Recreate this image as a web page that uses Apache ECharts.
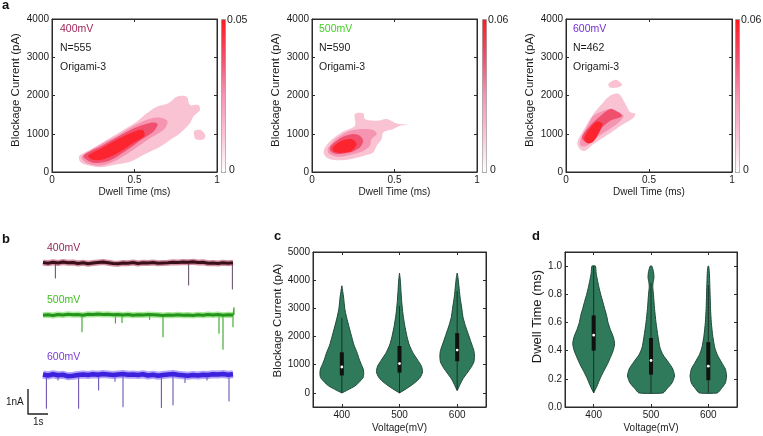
<!DOCTYPE html>
<html><head><meta charset="utf-8">
<script src="https://cdn.jsdelivr.net/npm/echarts@6/dist/echarts.min.js"></script>
<style>html,body{margin:0;padding:0;background:#fff}#c{width:763px;height:436px}</style>
</head><body><div id="c"></div>
<script>
// ---------------- DATA ----------------
const voltages = ['400', '500', '600'];
const voltageLabels = ['400mV', '500mV', '600mV'];
const eventCounts = ['N=555', 'N=590', 'N=462'];
const sampleName = 'Origami-3';
const densityMax = [0.05, 0.06, 0.06];
const densityMaxLabels = ['0.05', '0.06', '0.06'];

// panel a: density contours [dwell time (ms), blockage current (pA)]
const a400Outer = [[0.17,269],[0.165,420],[0.23,575],[0.331,836],[0.432,1098],[0.513,1315],[0.574,1534],[0.635,1707],[0.705,1796],[0.756,1968],[0.816,1968],[0.836,1751],[0.887,1751],[0.897,1621],[0.856,1445],[0.836,1273],[0.776,1011],[0.715,836],[0.655,661],[0.574,489],[0.473,269],[0.372,183],[0.291,123],[0.21,183]];
const a400Island = [[0.86,1060],[0.875,1100],[0.905,1090],[0.93,950],[0.915,850],[0.87,860]];
const a400Mid = [[0.18,400],[0.3,730],[0.4,960],[0.5,1220],[0.6,1400],[0.66,1420],[0.7,1330],[0.68,1120],[0.6,900],[0.5,600],[0.4,330],[0.3,170],[0.21,230]];
const a400High = [[0.19,420],[0.3,680],[0.4,920],[0.5,1150],[0.6,1290],[0.64,1260],[0.62,1080],[0.55,870],[0.45,560],[0.35,300],[0.25,240]];
const a400Core = [[0.22,430],[0.3,620],[0.4,860],[0.5,1060],[0.55,1100],[0.56,940],[0.5,780],[0.4,500],[0.3,320],[0.24,330]];
const a400Levels = [0.0125, 0.0125, 0.025, 0.0375, 0.0475];

const a500Outer = [[0.07,500],[0.08,650],[0.12,850],[0.189,1060],[0.26,1210],[0.26,1518],[0.31,1533],[0.321,1386],[0.392,1341],[0.453,1386],[0.513,1270],[0.584,1236],[0.533,1210],[0.493,1123],[0.432,1034],[0.422,860],[0.392,684],[0.371,508],[0.31,421],[0.229,334],[0.148,308],[0.095,360]];
const a500Mid = [[0.095,600],[0.15,880],[0.229,1078],[0.31,1123],[0.371,1097],[0.392,992],[0.361,860],[0.351,684],[0.31,552],[0.229,447],[0.158,400],[0.105,470]];
const a500High = [[0.11,660],[0.179,902],[0.249,992],[0.29,947],[0.31,815],[0.29,639],[0.229,508],[0.148,470],[0.113,540]];
const a500Core = [[0.125,639],[0.179,815],[0.24,860],[0.27,729],[0.24,552],[0.168,500],[0.13,540]];
const a500Levels = [0.015, 0.03, 0.045, 0.057];

const a600Outer = [[0.075,860],[0.115,1165],[0.165,1518],[0.216,1781],[0.267,1999],[0.317,2044],[0.358,1781],[0.388,1560],[0.418,1518],[0.398,1386],[0.347,1255],[0.287,1078],[0.226,902],[0.165,729],[0.115,552],[0.085,597],[0.068,729]];
const a600Island = [[0.256,2307],[0.297,2412],[0.327,2349],[0.338,2262],[0.297,2201],[0.262,2217]];
const a600Mid = [[0.085,815],[0.135,1255],[0.165,1473],[0.226,1604],[0.267,1649],[0.307,1560],[0.347,1473],[0.317,1297],[0.247,1078],[0.186,902],[0.125,684],[0.089,684]];
const a600High = [[0.095,902],[0.145,1210],[0.186,1386],[0.247,1604],[0.277,1649],[0.338,1473],[0.267,1341],[0.216,1165],[0.165,947],[0.125,771]];
const a600Core = [[0.11,880],[0.145,1150],[0.186,1320],[0.22,1270],[0.2,1034],[0.165,800],[0.13,750]];
const a600Levels = [0.015, 0.015, 0.03, 0.045, 0.057];

// panel b: current traces (s, nA)
const traceTimes = [0,0.25,0.5,0.75,1,1.25,1.5,1.75,2,2.25,2.5,2.75,3,3.25,3.5,3.75,4,4.25,4.5,4.75,5,5.25,5.5,5.75,6,6.25,6.5,6.75,7,7.25,7.5,7.75,8,8.25,8.5,8.75,9,9.25,9.5];
const traceOffsets = [0, -2.08, -4.48];
const noise400 = [0.02,-0.01,0.03,0.00,0.04,0.01,0.02,-0.02,0.01,-0.03,0.00,0.02,0.04,0.01,-0.02,-0.03,0.00,-0.01,0.02,-0.02,0.01,0.00,0.02,-0.01,0.00,0.01,0.03,0.02,0.04,0.03,0.05,0.02,0.03,-0.01,0.00,-0.02,0.01,-0.01,0.01];
const noise500 = [-0.01,0.01,-0.02,0.02,0.00,0.03,0.01,0.02,-0.01,0.03,0.02,0.04,0.02,0.03,0.01,0.02,0.00,0.02,-0.01,0.01,0.00,0.02,0.01,0.00,-0.02,0.00,-0.01,0.01,-0.01,0.00,-0.02,0.01,-0.01,0.02,0.00,0.02,-0.01,0.01,0.00];
const noise600 = [0.02,-0.02,0.03,-0.01,0.01,-0.05,-0.03,0.00,0.02,0.00,0.03,0.01,0.04,0.02,0.00,0.02,0.04,0.01,0.02,0.00,0.03,-0.02,0.01,-0.03,0.00,0.02,0.04,0.01,-0.01,-0.03,0.00,-0.02,0.01,0.00,0.03,0.02,0.04,0.01,0.03];
const spikes400Times = [0.62, 7.28, 9.47];
const spikes400Depths = [0.6, 0.88, 1.04];
const spikes500Times = [1.95, 3.62, 3.95, 5.33, 6.0, 8.8, 9.0, 9.5, 9.55];
const spikes500Depths = [0.67, 0.32, 0.3, 0.17, 0.87, 0.73, 1.37, 0.47, -0.3];
const spikes600Times = [0.17, 0.75, 1.78, 2.78, 3.6, 4.0, 5.92, 6.5, 7.1, 8.2, 9.3];
const spikes600Depths = [1.33, 0.2, 1.33, 0.6, 0.25, 1.27, 1.3, 1.2, 0.3, 0.2, 1.04];
const scaleBarTimes = [-0.75, -0.75, 0.25];
const scaleBarCurrents = [-5.04, -6.04, -6.04];

// panel c: blockage current violins (pA, half width as fraction of category band)
const c400Y = [0,100,250,400,550,700,850,1000,1200,1400,1700,2000,2300,2700,3000,3400,3800];
const c400W = [0,0.10,0.23,0.31,0.37,0.38,0.37,0.34,0.30,0.27,0.21,0.17,0.13,0.08,0.05,0.03,0];
const c500Y = [0,150,350,550,750,950,1150,1400,1700,2000,2400,2800,3200,3600,4000,4250];
const c500W = [0,0.12,0.26,0.36,0.40,0.38,0.32,0.24,0.17,0.13,0.09,0.06,0.04,0.026,0.014,0];
const c600Y = [80,300,500,700,900,1100,1300,1500,1800,2100,2400,2700,3000,3400,3800,4100,4250];
const c600W = [0,0.05,0.10,0.17,0.24,0.29,0.30,0.29,0.24,0.19,0.14,0.10,0.08,0.05,0.03,0.014,0];
const cQ1 = [620, 720, 1125];
const cQ3 = [1440, 1665, 2120];
const cMedian = [920, 1040, 1520];
const cWhiskLo = [0, 0, 100];
const cWhiskHi = [2670, 3080, 3610];
const cTicks = [0, 1000, 2000, 3000, 4000, 5000];

// panel d: dwell time violins (ms)
const d400Y = [0.10,0.15,0.20,0.25,0.30,0.35,0.40,0.45,0.50,0.55,0.60,0.65,0.70,0.75,0.80,0.85,0.90,0.95,1.00];
const d400W = [0,0.06,0.11,0.17,0.235,0.29,0.34,0.365,0.34,0.29,0.25,0.225,0.19,0.157,0.122,0.092,0.066,0.043,0.03];
const d500Y = [0.10,0.13,0.17,0.22,0.27,0.32,0.37,0.42,0.50,0.60,0.70,0.80,0.85,0.88,0.92,0.96,1.00];
const d500W = [0.21,0.28,0.365,0.41,0.38,0.30,0.21,0.157,0.122,0.087,0.061,0.043,0.031,0.035,0.052,0.043,0.014];
const d600Y = [0.10,0.13,0.17,0.22,0.27,0.32,0.37,0.42,0.50,0.60,0.70,0.80,0.90,0.96,1.00];
const d600W = [0.157,0.226,0.296,0.318,0.296,0.226,0.157,0.113,0.078,0.052,0.038,0.031,0.023,0.017,0.005];
const dQ1 = [0.40, 0.23, 0.19];
const dQ3 = [0.65, 0.49, 0.46];
const dMedian = [0.51, 0.33, 0.29];
const dWhiskLo = [0.10, 0.10, 0.10];
const dWhiskHi = [1.00, 0.88, 0.865];
const dTicks = [0, 0.2, 0.4, 0.6, 0.8, 1.0];

// ---------------- STYLE ----------------
const FONT = '"Liberation Sans", Arial, Helvetica, sans-serif';
const AX = '#2b2b2b';
const TXT = '#1a1a1a';
const densityColors = ['#ffffff', '#fac3d3', '#f595b2', '#f0506e', '#ff1a1f'];
const violinFill = '#2f7a5b';
const violinEdge = '#1d4a39';

function merge(a, b) {
  const out = Array.isArray(a) ? a.slice() : Object.assign({}, a);
  for (const k in b) {
    if (b[k] && typeof b[k] === 'object' && !Array.isArray(b[k]) && a[k] && typeof a[k] === 'object' && !Array.isArray(a[k])) out[k] = merge(a[k], b[k]);
    else out[k] = b[k];
  }
  return out;
}
function axisBase(gridIndex, extra) {
  return merge({
    gridIndex: gridIndex,
    axisLine: { show: true, onZero: false, lineStyle: { color: AX, width: 1 } },
    axisTick: { show: true, inside: true, length: 3, lineStyle: { color: AX } },
    axisLabel: { fontFamily: FONT, fontSize: 10, color: TXT, margin: 3, formatter: v => String(v) },
    splitLine: { show: false },
    nameTextStyle: { fontFamily: FONT, color: TXT }
  }, extra);
}
const hiddenLabel = { axisLabel: { show: false } };

const xAxes = [], yAxes = [];
for (let g = 0; g < 3; g++) {
  xAxes.push(axisBase(g, { type: 'value', position: 'bottom', min: 0, max: 1, interval: 0.5,
    name: 'Dwell Time (ms)', nameLocation: 'middle', nameGap: 15, nameTextStyle: { fontSize: 10 } }));
  xAxes.push(axisBase(g, merge({ type: 'value', position: 'top', min: 0, max: 1, interval: 0.5 }, hiddenLabel)));
  yAxes.push(axisBase(g, { type: 'value', position: 'left', min: 0, max: 4000, interval: 1000,
    name: 'Blockage Current (pA)', nameLocation: 'middle', nameGap: 30, nameRotate: 90,
    nameTextStyle: { fontSize: 11.5, padding: [0, 0, 0, 11] } }));
  yAxes.push(axisBase(g, merge({ type: 'value', position: 'right', min: 0, max: 4000, interval: 1000 }, hiddenLabel)));
}
xAxes.push({ gridIndex: 3, type: 'value', min: -0.8, max: 9.6, show: false });
yAxes.push({ gridIndex: 3, type: 'value', min: -6.08, max: 0.72, show: false });
xAxes.push(axisBase(4, { type: 'category', data: voltages, position: 'bottom', boundaryGap: true,
  axisTick: { alignWithLabel: true }, axisLabel: { formatter: null }, name: 'Voltage(mV)', nameLocation: 'middle', nameGap: 16, nameTextStyle: { fontSize: 10 } }));
xAxes.push(axisBase(4, merge({ type: 'category', data: voltages, position: 'top', boundaryGap: true, axisTick: { alignWithLabel: true } }, hiddenLabel)));
yAxes.push(axisBase(4, { type: 'value', position: 'left', min: -500, max: 5000,
  axisLabel: { customValues: cTicks }, axisTick: { customValues: cTicks },
  name: 'Blockage Current (pA)', nameLocation: 'middle', nameGap: 29, nameRotate: 90,
  nameTextStyle: { fontSize: 11.5, padding: [0, 0, 0, 18] } }));
yAxes.push(axisBase(4, merge({ type: 'value', position: 'right', min: -500, max: 5000,
  axisTick: { customValues: cTicks } }, hiddenLabel)));
xAxes.push(axisBase(5, { type: 'category', data: voltages, position: 'bottom', boundaryGap: true,
  axisTick: { alignWithLabel: true }, axisLabel: { formatter: null }, name: 'Voltage(mV)', nameLocation: 'middle', nameGap: 16, nameTextStyle: { fontSize: 10 } }));
xAxes.push(axisBase(5, merge({ type: 'category', data: voltages, position: 'top', boundaryGap: true, axisTick: { alignWithLabel: true } }, hiddenLabel)));
yAxes.push(axisBase(5, { type: 'value', position: 'left', min: 0, max: 1.1,
  axisLabel: { customValues: dTicks, formatter: v => Number(v).toFixed(1) }, axisTick: { customValues: dTicks },
  name: 'Dwell Time (ms)', nameLocation: 'middle', nameGap: 14, nameRotate: 90,
  nameTextStyle: { fontSize: 13, padding: [0, 0, 0, 26] } }));
yAxes.push(axisBase(5, merge({ type: 'value', position: 'right', min: 0, max: 1.1,
  axisTick: { customValues: dTicks } }, hiddenLabel)));

// ---------------- SERIES ----------------
function contourSeries(xi, yi, polys, levels) {
  return {
    type: 'custom', xAxisIndex: xi, yAxisIndex: yi, silent: true, animation: false,
    data: levels.map(l => [l]),
    renderItem: function (params, api) {
      const pts = polys[params.dataIndex].map(p => api.coord(p));
      return { type: 'polygon', shape: { points: pts, smooth: 0.3 },
        style: { fill: api.visual('color'), stroke: null } };
    }
  };
}
function violinSeries(xi, yi, profY, profW, q1, q3, med, lo, hi) {
  return {
    type: 'custom', xAxisIndex: xi, yAxisIndex: yi, silent: true, animation: false,
    data: med.map((m, i) => [i, m]),
    encode: { x: 0, y: 1 },
    renderItem: function (params, api) {
      const i = params.dataIndex;
      const band = api.size([1, 0])[0];
      const ys = profY[i], ws = profW[i];
      const right = [], left = [];
      for (let k = 0; k < ys.length; k++) {
        const p = api.coord([i, ys[k]]);
        right.push([p[0] + ws[k] * band, p[1]]);
        left.unshift([p[0] - ws[k] * band, p[1]]);
      }
      const c1 = api.coord([i, q1[i]]), c3 = api.coord([i, q3[i]]);
      const cl = api.coord([i, lo[i]]), ch = api.coord([i, hi[i]]);
      const cm = api.coord([i, med[i]]);
      return { type: 'group', children: [
        { type: 'polygon', shape: { points: right.concat(left), smooth: 0.2 },
          style: { fill: violinFill, stroke: violinEdge, lineWidth: 1 } },
        { type: 'line', shape: { x1: cl[0], y1: cl[1], x2: ch[0], y2: ch[1] },
          style: { stroke: '#1b3128', lineWidth: 1 } },
        { type: 'rect', shape: { x: c3[0] - 2, y: c3[1], width: 4, height: c1[1] - c3[1] },
          style: { fill: '#111' } },
        { type: 'circle', shape: { cx: cm[0], cy: cm[1], r: 1.4 }, style: { fill: '#fff' } }
      ] };
    }
  };
}
function traceData(offset, noise) { return traceTimes.map((t, i) => [t, offset + noise[i]]); }
function spikeData(offset, times, depths) {
  const out = [[0, offset]];
  times.forEach((t, i) => { out.push([t, offset], [t, offset - depths[i]], [t, offset]); });
  return out;
}
function lineS(data, color, width, z, opacity) {
  return { type: 'line', xAxisIndex: 6, yAxisIndex: 6, data: data, symbol: 'none', silent: true,
    animation: false, z: z, lineStyle: { color: color, width: width, opacity: opacity == null ? 1 : opacity, join: 'round' } };
}

const series = [
  contourSeries(0, 0, [a400Outer, a400Island, a400Mid, a400High, a400Core], a400Levels),
  contourSeries(2, 2, [a500Outer, a500Mid, a500High, a500Core], a500Levels),
  contourSeries(4, 4, [a600Outer, a600Island, a600Mid, a600High, a600Core], a600Levels),
  lineS(spikeData(traceOffsets[0], spikes400Times, spikes400Depths), '#6c5872', 1.1, 2),
  lineS(traceData(traceOffsets[0], noise400), '#b03555', 6, 3, 0.55),
  lineS(traceData(traceOffsets[0], noise400), '#3b0f1a', 3.2, 4),
  lineS(spikeData(traceOffsets[1], spikes500Times, spikes500Depths), '#35a526', 1.1, 2),
  lineS(traceData(traceOffsets[1], noise500), '#6fdc55', 6, 3, 0.6),
  lineS(traceData(traceOffsets[1], noise500), '#23931b', 3.2, 4),
  lineS(spikeData(traceOffsets[2], spikes600Times, spikes600Depths), '#6e55b4', 1.1, 2),
  lineS(traceData(traceOffsets[2], noise600), '#8068f5', 8, 3, 0.6),
  lineS(traceData(traceOffsets[2], noise600), '#3c22dc', 4.5, 4),
  lineS(scaleBarTimes.map((t, i) => [t, scaleBarCurrents[i]]), '#222', 1.4, 5),
  violinSeries(7, 7, [c400Y, c500Y, c600Y], [c400W, c500W, c600W], cQ1, cQ3, cMedian, cWhiskLo, cWhiskHi),
  violinSeries(9, 9, [d400Y, d500Y, d600Y], [d400W, d500W, d600W], dQ1, dQ3, dMedian, dWhiskLo, dWhiskHi)
];

// ---------------- COLOR BARS ----------------
const barLefts = [221, 482, 735];
const visualMaps = [0, 1, 2].map(i => ({
  type: 'continuous', seriesIndex: i, dimension: 0, min: 0, max: densityMax[i],
  calculable: false, hoverLink: false, orient: 'vertical', left: barLefts[i], top: 19,
  itemWidth: 4, itemHeight: 153, padding: 0, borderColor: '#9a9a9a', borderWidth: 1,
  inRange: { color: densityColors }
}));

// ---------------- TEXT ----------------
function txt(x, y, s, size, color, weight, align) {
  return { type: 'text', x: x, y: y, silent: true, style: { text: s, fill: color || TXT,
    font: (weight || 'normal') + ' ' + size + 'px ' + FONT, verticalAlign: 'middle', align: align || 'left' } };
}
const aTextX = [60, 319, 573];
const aLabelColors = ['#a3245a', '#3fcf1e', '#7030d0'];
const cbLabelX = [227, 488, 741];
const graphics = [
  txt(2, 5, 'a', 13, '#111', 'bold'),
  txt(2, 239, 'b', 13, '#111', 'bold'),
  txt(274, 236, 'c', 13, '#111', 'bold'),
  txt(532, 236, 'd', 13, '#111', 'bold')
];
for (let i = 0; i < 3; i++) {
  graphics.push(txt(aTextX[i], 29, voltageLabels[i], 10.5, aLabelColors[i]));
  graphics.push(txt(aTextX[i], 48, eventCounts[i], 10.5, TXT));
  graphics.push(txt(aTextX[i], 67, sampleName, 10.5, TXT));
  graphics.push(txt(cbLabelX[i], 20, densityMaxLabels[i], 10.5, TXT));
  graphics.push(txt(cbLabelX[i] + 2, 170, '0', 10.5, TXT));
}
const bLabelY = [248.5, 300.5, 357];
const bLabelColors = ['#8c2a55', '#3cc21e', '#7a3cd6'];
for (let i = 0; i < 3; i++) graphics.push(txt(47, bLabelY[i], voltageLabels[i], 10.5, bLabelColors[i]));
graphics.push(txt(6, 402, '1nA', 10, TXT));
graphics.push(txt(33, 422, '1s', 10, TXT));

const gridBox = { show: true, borderColor: AX, borderWidth: 1, backgroundColor: 'transparent' };
const chart = echarts.init(document.getElementById('c'), null, { renderer: 'canvas' });
chart.setOption({
  animation: false,
  backgroundColor: '#ffffff',
  textStyle: { fontFamily: FONT },
  grid: [
    Object.assign({ left: 52, top: 19, width: 165, height: 153 }, gridBox),
    Object.assign({ left: 312, top: 19, width: 165, height: 153 }, gridBox),
    Object.assign({ left: 566, top: 19, width: 166, height: 153 }, gridBox),
    { left: 27, top: 245, width: 208, height: 170, show: false },
    Object.assign({ left: 313, top: 252, width: 173, height: 155 }, gridBox),
    Object.assign({ left: 565, top: 252, width: 172, height: 155 }, gridBox)
  ],
  xAxis: xAxes,
  yAxis: yAxes,
  visualMap: visualMaps,
  series: series,
  graphic: graphics
});
</script></body></html>
